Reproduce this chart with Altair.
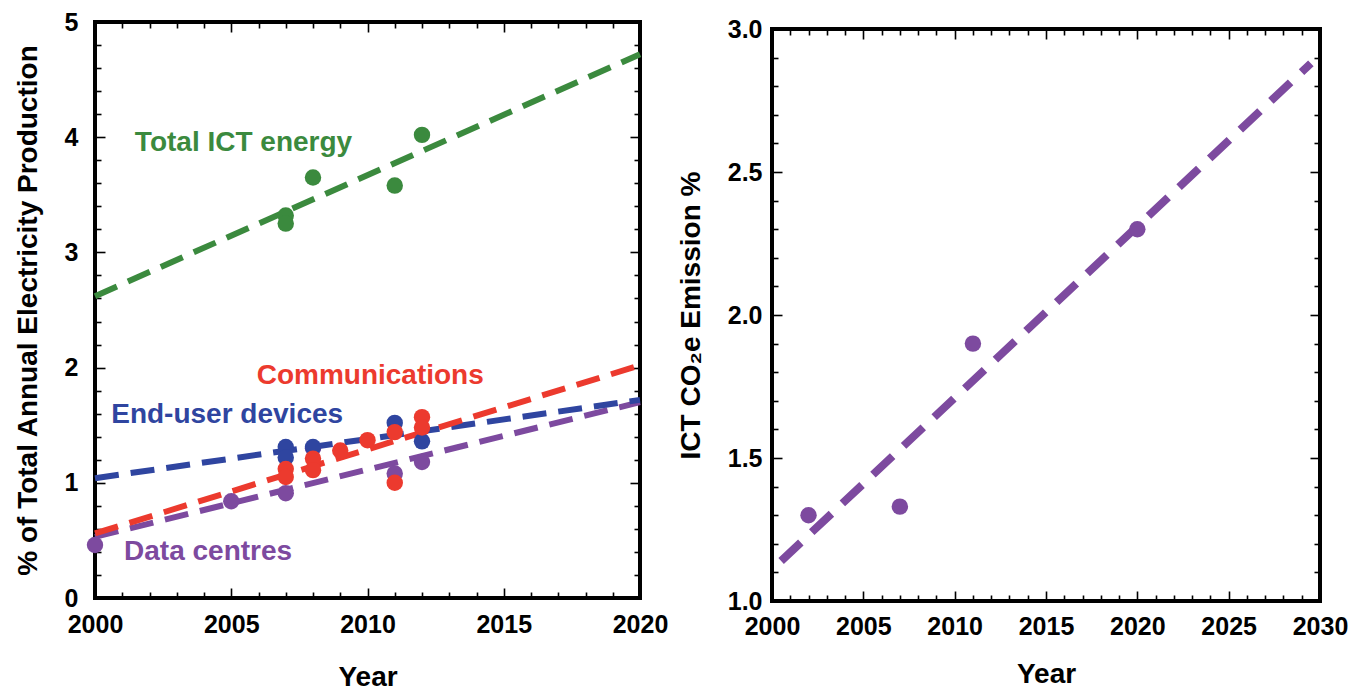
import altair as alt
import pandas as pd

# ---------------- data (left panel) ----------------
total_years = [2007, 2007, 2008, 2011, 2012]
total_vals = [3.32, 3.25, 3.65, 3.58, 4.02]
dev_years = [2007, 2007, 2008, 2011, 2012]
dev_vals = [1.31, 1.22, 1.31, 1.52, 1.36]
comm_years = [2007, 2007, 2008, 2008, 2009, 2010, 2011, 2011, 2012, 2012]
comm_vals = [1.12, 1.05, 1.21, 1.11, 1.28, 1.37, 1.44, 1.00, 1.57, 1.48]
dc_years = [2000, 2005, 2007, 2008, 2011, 2012]
dc_vals = [0.46, 0.84, 0.91, 1.30, 1.08, 1.18]

fit_years = [2000, 2020]
fit_total = [2.62, 4.72]
fit_dev = [1.04, 1.72]
fit_comm = [0.56, 2.02]
fit_dc = [0.53, 1.70]

series_names = ["Data centres", "End-user devices", "Communications", "Total ICT energy"]
series_colors = ["#7d4a9f", "#2f45a0", "#ec3a2e", "#3b8a3e"]

label_text = ["Total ICT energy", "Communications", "End-user devices", "Data centres"]
label_x = [2005.45, 2010.1, 2004.85, 2004.15]
label_y = [3.95, 1.93, 1.59, 0.40]

# ---------------- data (right panel) ----------------
co2_years = [2002, 2007, 2011, 2020]
co2_vals = [1.30, 1.33, 1.90, 2.30]
co2_fit_years = [2000.5, 2029.5]
co2_fit_vals = [1.14, 2.88]
co2_color = "#7d4a9f"

FONT = "Liberation Sans"

pts = []
for name, ys, vs in [("Data centres", dc_years, dc_vals),
                     ("End-user devices", dev_years, dev_vals),
                     ("Communications", comm_years, comm_vals),
                     ("Total ICT energy", total_years, total_vals)]:
    for a, b in zip(ys, vs):
        pts.append({"series": name, "year": a, "value": b, "order": series_names.index(name)})
left_pts = pd.DataFrame(pts)

lns = []
for name, vs in [("Data centres", fit_dc), ("End-user devices", fit_dev),
                 ("Communications", fit_comm), ("Total ICT energy", fit_total)]:
    for a, b in zip(fit_years, vs):
        lns.append({"series": name, "year": a, "value": b})
left_lines = pd.DataFrame(lns)

left_labels = pd.DataFrame({"text": label_text, "year": label_x, "value": label_y,
                            "series": ["Total ICT energy", "Communications", "End-user devices", "Data centres"]})

right_pts = pd.DataFrame({"year": co2_years, "value": co2_vals})
right_line = pd.DataFrame({"year": co2_fit_years, "value": co2_fit_vals})

color_scale = alt.Scale(domain=series_names, range=series_colors)


def cond_size(test):
    return {"condition": {"test": test, "value": 10}, "value": 6}


def axes(xmaj, xminor, ymaj, yminor, xtest, ytest, W, H, ytitle, yfmt,
         ylabpad, ytitlepad, xlabpad, xtitlepad):
    lab = dict(labelFont=FONT, labelFontSize=25, labelFontWeight="bold", labelColor="black",
               titleFont=FONT, titleFontSize=28, titleFontWeight="bold", titleColor="black")
    x_main = alt.Axis(orient="bottom", values=xmaj, format="d", ticks=False, tickSize=0, domain=False,
                      grid=False, labelPadding=xlabpad, title="Year", titlePadding=xtitlepad,
                      labelFlush=False, **lab)
    y_main = alt.Axis(orient="left", values=ymaj, format=yfmt, ticks=False, tickSize=0, domain=False,
                      grid=False, labelPadding=ylabpad, title=ytitle, titlePadding=ytitlepad, **lab)
    tick = dict(labels=False, domain=False, grid=False, title=None, ticks=True,
                tickColor="black", tickWidth=1.6)
    x_t1 = alt.Axis(orient="top", offset=-H, values=xminor, tickSize=cond_size(xtest), **tick)
    x_t2 = alt.Axis(orient="bottom", offset=-H, values=xminor, tickSize=cond_size(xtest), **tick)
    y_t1 = alt.Axis(orient="right", offset=-W, values=yminor, tickSize=cond_size(ytest), **tick)
    y_t2 = alt.Axis(orient="left", offset=-W, values=yminor, tickSize=cond_size(ytest), **tick)
    return (x_main, y_main), (x_t1, y_t1), (x_t2, y_t2)


# ---------------- left panel ----------------
LW, LH = 545, 576
lxs = alt.Scale(domain=[2000, 2020], nice=False, zero=False)
lys = alt.Scale(domain=[0, 5], nice=False)
l_xmin = [int(v) for v in range(2000, 2021)]
l_ymin = [round(v * 0.2, 1) for v in range(0, 26)]
(lx0, ly0), (lx1, ly1), (lx2, ly2) = axes(
    [2000, 2005, 2010, 2015, 2020], l_xmin, [0, 1, 2, 3, 4, 5], l_ymin,
    "datum.value % 5 == 0", "abs(datum.value - round(datum.value)) < 0.001",
    LW, LH, "% of Total Annual Electricity Production", "d", 17, 22, 14, 26)

l_lines = alt.Chart(left_lines).mark_line(strokeWidth=6, strokeDash=[24, 12], strokeCap="butt").encode(
    x=alt.X("year:Q", scale=lxs, axis=lx0),
    y=alt.Y("value:Q", scale=lys, axis=ly0),
    color=alt.Color("series:N", scale=color_scale, legend=None),
    detail="series:N",
)
l_points = alt.Chart(left_pts).mark_circle(size=270, opacity=1).encode(
    x=alt.X("year:Q", scale=lxs, axis=lx1),
    y=alt.Y("value:Q", scale=lys, axis=ly1),
    color=alt.Color("series:N", scale=color_scale, legend=None),
    order=alt.Order("order:Q"),
)
l_text = alt.Chart(left_labels).mark_text(font=FONT, fontSize=28, fontWeight="bold", align="center",
                                           baseline="middle").encode(
    x=alt.X("year:Q", scale=lxs, axis=lx2),
    y=alt.Y("value:Q", scale=lys, axis=ly2),
    text="text:N",
    color=alt.Color("series:N", scale=color_scale, legend=None),
)
left = alt.layer(l_lines, l_points, l_text).resolve_axis(x="independent", y="independent").properties(
    width=LW, height=LH)

# ---------------- right panel ----------------
RW, RH = 548, 572
rxs = alt.Scale(domain=[2000, 2030], nice=False, zero=False)
rys = alt.Scale(domain=[1, 3], nice=False, zero=False)
r_xmin = [int(v) for v in range(2000, 2031)]
r_ymin = [round(1 + v * 0.1, 1) for v in range(0, 21)]
(rx0, ry0), (rx1, ry1), (rx2, ry2) = axes(
    [2000, 2005, 2010, 2015, 2020, 2025, 2030], r_xmin, [1.0, 1.5, 2.0, 2.5, 3.0], r_ymin,
    "datum.value % 5 == 0", "abs(datum.value*2 - round(datum.value*2)) < 0.001",
    RW, RH, "ICT CO₂e Emission %", ".1f", 10, 22, 13, 21)

r_line = alt.Chart(right_line).mark_line(strokeWidth=8, strokeDash=[27, 15], strokeCap="butt",
                                         color=co2_color).encode(
    x=alt.X("year:Q", scale=rxs, axis=rx0),
    y=alt.Y("value:Q", scale=rys, axis=ry0),
)
r_points = alt.Chart(right_pts).mark_circle(size=270, opacity=1, color=co2_color).encode(
    x=alt.X("year:Q", scale=rxs, axis=rx1),
    y=alt.Y("value:Q", scale=rys, axis=ry1),
)
r_dummy = alt.Chart(right_pts).mark_circle(size=0, opacity=0).encode(
    x=alt.X("year:Q", scale=rxs, axis=rx2),
    y=alt.Y("value:Q", scale=rys, axis=ry2),
)
right = alt.layer(r_line, r_points, r_dummy).resolve_axis(x="independent", y="independent").properties(
    width=RW, height=RH)

spacer = alt.Chart(pd.DataFrame({"a": [0]})).mark_point(opacity=0).encode(
    x=alt.X("a:Q", axis=None), y=alt.Y("a:Q", axis=None)
).properties(width=RW, height=1, view=alt.ViewBackground(stroke="transparent", strokeWidth=0))

right_col = alt.vconcat(spacer, right, spacing=-11)

chart = alt.hconcat(left, right_col, spacing=5).properties(
    padding={"left": 4, "top": 0, "right": 0, "bottom": 0}
).configure_view(stroke="black", strokeWidth=4)

chart.save("out.html", embed_options={"renderer": "svg", "actions": False})
